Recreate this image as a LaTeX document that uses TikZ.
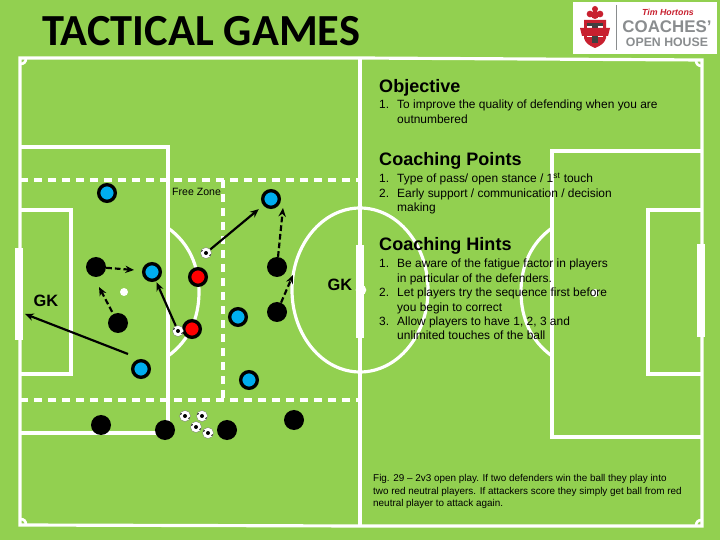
\documentclass[tikz,border=0pt]{standalone}
\usepackage{fontspec}
\setmainfont{Liberation Sans}
\newfontfamily\titlefont{Carlito}
\usepackage{xcolor}
\usetikzlibrary{arrows.meta}
\definecolor{pitch}{HTML}{92D050}
\definecolor{teamblue}{HTML}{00AEEF}
\definecolor{logogray}{HTML}{8A8D8F}
\definecolor{logored}{HTML}{C8202F}

\begin{document}
\begin{tikzpicture}[
                  x=0.03cm, y=-0.03cm,
                  pline/.style={draw=white, line width=0.095cm},
                  thinline/.style={draw=white, line width=0.08cm},
                  dline/.style={draw=white, line width=0.1cm, dash pattern=on 0.25cm off 0.17cm},
                  goalbar/.style={fill=white},
                  blue/.style={circle, draw=black, line width=0.1cm, fill=teamblue, minimum size=0.5cm, inner sep=0pt},
                  redp/.style={circle, draw=black, line width=0.1cm, fill=red, minimum size=0.5cm, inner sep=0pt},
                  blackp/.style={circle, fill=black, minimum size=0.6cm, inner sep=0pt},
                  ball/.style={circle, draw=black!60, line width=0.2pt, fill=white, minimum size=0.33cm, inner sep=0pt,
                              path picture={\fill[black] (path picture bounding box.center) circle (0.06cm);
                                    \fill[black] ([xshift=-0.13cm,yshift=0.07cm]path picture bounding box.center) circle (0.035cm);
                                    \fill[black] ([xshift=0.13cm,yshift=-0.07cm]path picture bounding box.center) circle (0.035cm);}},
                  pass/.style={draw=black, line width=0.065cm, -{Stealth[length=0.26cm,width=0.22cm]}},
                  run/.style={pass, dash pattern=on 0.17cm off 0.09cm},
                  head/.style={anchor=base west, inner sep=0pt, font=\fontsize{15.4}{18}\selectfont\bfseries},
                  item/.style={anchor=base west, inner sep=0pt, font=\fontsize{10.2}{12}\selectfont},
                  figtxt/.style={anchor=base west, inner sep=0pt, font=\fontsize{8.45}{10}\selectfont},
                  gk/.style={inner sep=0pt, font=\fontsize{14}{16}\selectfont\bfseries},
            ]
            \useasboundingbox[fill=pitch] (0,0) rectangle (720,540);

            % Title
            \node[anchor=base west, inner sep=0pt, font=\titlefont\fontsize{37.9}{40}\selectfont\bfseries] (ttl) at (42,46) {TACTICAL GAMES};

            % Logo
            \node[fill=white, minimum width=4.32cm, minimum height=1.56cm, inner sep=0pt] (logo) at (645,28) {};
            \draw[logogray, line width=0.03cm] (616,5) -- (616,50);
            \fill[logored] (595,9) circle (0.09cm) (590,14) circle (0.1cm) (600,14) circle (0.1cm) (595,15) circle (0.12cm);
            \fill[logored] (584,20) -- (606,20) -- (606,38) .. controls (605,43) and (600,46) .. (595,48) .. controls (590,46) and (585,43) .. (584,38) -- cycle;
            \fill[white] (587,23) rectangle (603,37);
            \fill[black!75] (587,23) rectangle (603,26);
            \fill[black!75] (592,23) rectangle (598,43);
            \fill[logored] (580,28) -- (610,28) -- (608,36) -- (582,36) -- cycle;
            \node[inner sep=0pt, text=logored, font=\fontsize{7.5}{9}\selectfont\itshape\bfseries] (lg1) at (668,12) {Tim Hortons};
            \node[inner sep=0pt, text=logogray, font=\fontsize{14.4}{16}\selectfont\bfseries] (lg2) at (667,27) {COACHES'};
            \node[inner sep=0pt, text=logogray, font=\fontsize{10.5}{11}\selectfont\bfseries] (lg3) at (667,42) {OPEN HOUSE};

            % Pitch lines
            \draw[pline] (20,58) -- (360,58) -- (702,60) -- (702,526) -- (360,526) -- (20,525) -- cycle;
            \draw[pline] (360,58) -- (360,526);
            \draw[pline] (20,147) -- (168,147) -- (168,433) -- (20,433);
            \draw[pline] (20,210) -- (71,210) -- (71,374) -- (20,374);
            \draw[pline] (702,151) -- (552,151) -- (552,437) -- (702,437);
            \draw[pline] (702,210) -- (648,210) -- (648,374) -- (702,374);

            % Corners
            \foreach \a/\b/\c/\d/\e/\f/\g/\h in {
                  20/64/24/64/26/62/26/58,
                  20/519/24/519/26/521/26/525,
                  702/520/698/520/696/522/696/526,
                  702/66/698/66/696/64/696/60}{
                  \draw[thinline] (\a,\b) .. controls (\c,\d) and (\e,\f) .. (\g,\h);
                  }

            % Circle and arcs
            \draw[pline] (360,290) ellipse [x radius=68, y radius=82];
            \draw[pline] (168,228) .. controls (189,243) and (199,266) .. (199,292) .. controls (199,318) and (189,341) .. (168,356);
            \draw[pline] (552,228) .. controls (531,243) and (521,266) .. (521,292) .. controls (521,318) and (531,341) .. (552,356);

            % Goals and spots
            \fill[goalbar] (15,248) rectangle (23,340);
            \fill[goalbar] (356,245) rectangle (364,338);
            \fill[goalbar] (697,244) rectangle (705,337);
            \fill[white] (361,290) circle (0.16cm) (124,292) circle (0.12cm) (595,293) circle (0.12cm);

            % Zone lines
            \draw[dline] (20,180) -- (360,180);
            \draw[dline] (20,400) -- (360,400);
            \draw[dline] (223,180) -- (223,400);

            % Players
            \foreach \i/\px/\py in {1/107/193, 2/152/272, 3/271/199, 4/238/317, 5/141/369, 6/249/380}{
                  \node[blue] (B\i) at (\px,\py) {};
                  }
            \foreach \i/\px/\py in {1/96/267, 2/118/323, 3/277/267, 4/277/312, 5/101/425, 6/165/430, 7/227/430, 8/294/420}{
                  \node[blackp] (K\i) at (\px,\py) {};
                  }
            \node[redp] (R1) at (198,277) {};
            \node[redp] (R2) at (192,329) {};

            % Balls
            \foreach \i/\px/\py in {1/206/253, 2/178/331, 3/185/416, 4/202/416, 5/196/427, 6/208/433}{
                  \node[ball] (S\i) at (\px,\py) {};
                  }

            % Free ends of arrows
            \coordinate (tipA) at (134,270);
            \coordinate (tipB) at (99,287);
            \coordinate (tipC) at (283,208);
            \coordinate (tipD) at (293,275);
            \coordinate (tipE) at (25,314);
            \coordinate (startE) at (128,354);

            % Passes
            \draw[pass, shorten >=1pt] (S2) -- (B2);
            \draw[pass, shorten >=5pt] (S1) -- (B3);
            \draw[pass] (startE) -- (tipE);

            % Runs
            \draw[run] (K1) -- (tipA);
            \draw[run, shorten <=2pt] (K2) -- (tipB);
            \draw[run] (K3) -- (tipC);
            \draw[run] (K4) -- (tipD);

            % Labels on the pitch
            \node[gk] (GK1) at (46,301) {GK};
            \node[gk] (GK2) at (340,285) {GK};
            \node[anchor=base west, inner sep=0pt, font=\fontsize{9}{10}\selectfont] (fz) at (172,196) {Free Zone};

            % Text blocks
            \node[head] (obj) at (379,93) {Objective};
            \node[head] (pts) at (379,166) {Coaching Points};
            \node[head] (hnt) at (379,251) {Coaching Hints};

            \foreach \i/\py/\num/\lab in {
                  1/109/1./To improve the quality of defending when you are,
                  2/124//outnumbered,
                  3/183/1./{Type of pass/ open stance / 1\textsuperscript{st} touch},
                  4/198/2./{Early support / communication / decision},
                  5/212//making,
                  6/268/1./Be aware of the fatigue factor in players,
                  7/283//in particular of the defenders.,
                  8/297/2./Let players try the sequence first before,
                  9/312//you begin to correct,
                  10/326/3./{Allow players to have 1, 2, 3 and},
                  11/340//unlimited touches of the ball}{
                  \node[item] (L\i) at (397,\py) {\lab};
                  \node[item] (N\i) at (379,\py) {\num};
                  }

            \node[figtxt] (fig1) at (373,482) {Fig. 29 – 2v3 open play. If two defenders win the ball they play into};
            \node[figtxt] (fig2) at (373,494) {two red neutral players. If attackers score they simply get ball from red};
            \node[figtxt] (fig3) at (373,506) {neutral player to attack again.};
      \end{tikzpicture}
\end{document}
